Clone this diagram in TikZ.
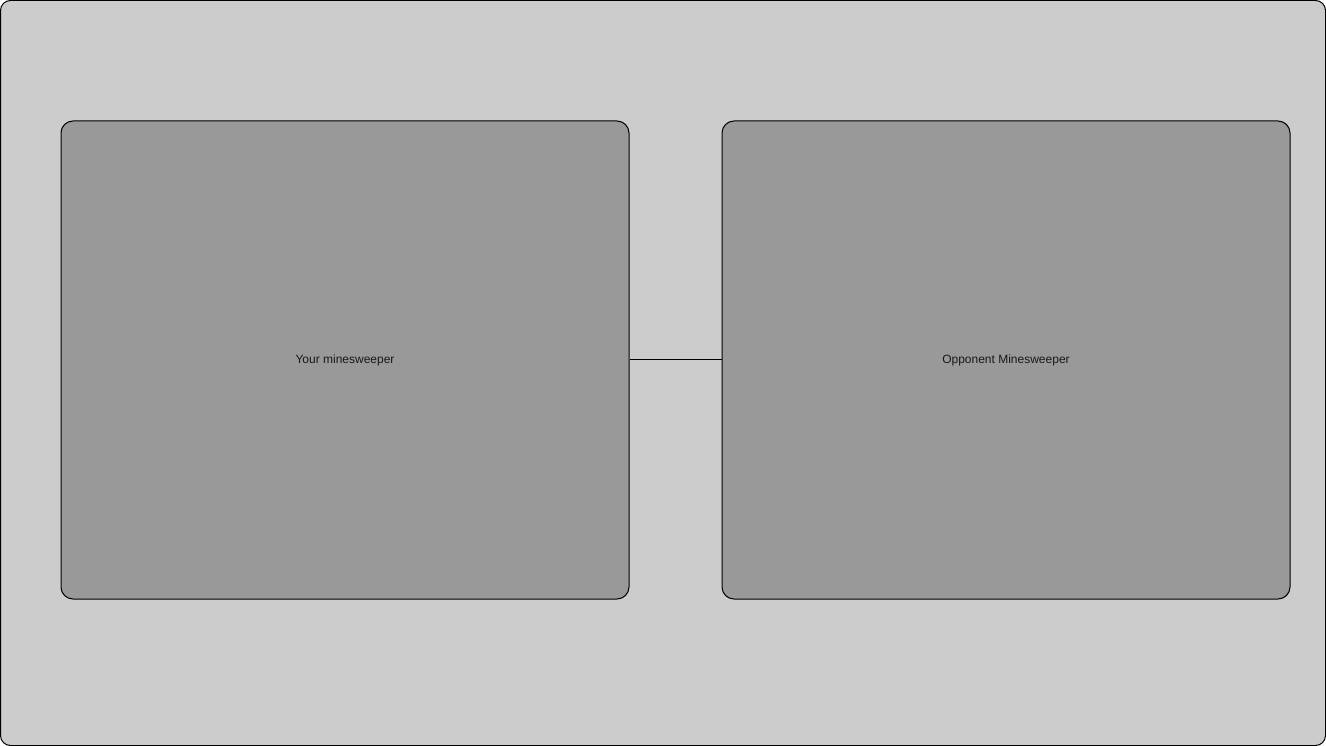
\documentclass[tikz,border=0pt]{standalone}
\usepackage{fontspec}
\setmainfont{Liberation Sans}
\definecolor{outerfill}{HTML}{CCCCCC}
\definecolor{boxfill}{HTML}{999999}
\begin{document}
\begin{tikzpicture}[x=1pt,y=-1pt,
  panel/.style={draw=black,line width=1pt,fill=boxfill,rounded corners=12pt,
    minimum width=568pt,minimum height=478pt,inner sep=0pt,
    font=\fontsize{12pt}{14pt}\selectfont,text=black!90},
  link/.style={draw=black,line width=1pt}]
\useasboundingbox (0,0) rectangle (1326,746);
\draw[fill=outerfill,draw=black,line width=1pt,rounded corners=10pt] (0.5,0.5) rectangle (1325.5,745.5);
\node[panel] (you) at (345,360) {Your minesweeper};
\node[panel] (opp) at (1006,360) {Opponent Minesweeper};
\draw[link] (you.east |- 0,359) coordinate (a) -- (opp.west |- a);
\end{tikzpicture}
\end{document}
